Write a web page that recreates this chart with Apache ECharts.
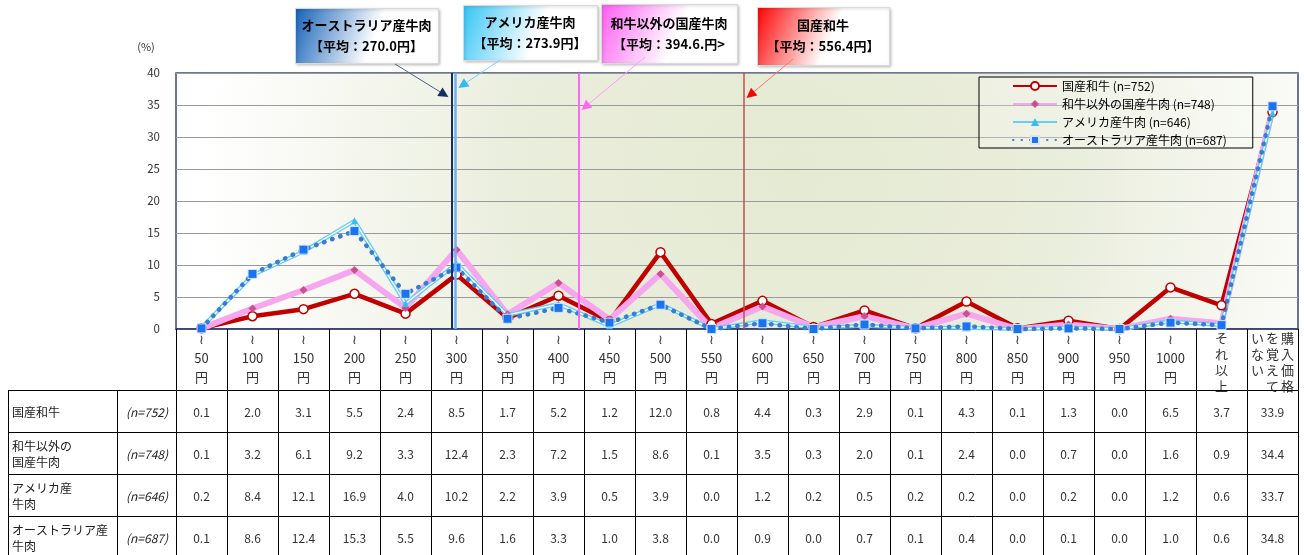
<!DOCTYPE html>
<html>
<head>
<meta charset="utf-8">
<script src="https://cdn.jsdelivr.net/npm/echarts@6/dist/echarts.min.js"></script>
<style>
  html, body { margin: 0; padding: 0; background: #fff; }
  #main { width: 1304px; height: 555px; }
</style>
</head>
<body>
<div id="main"></div>
<script>
// 価格帯
var categories = ['～50円', '～100円', '～150円', '～200円', '～250円', '～300円', '～350円', '～400円',
  '～450円', '～500円', '～550円', '～600円', '～650円', '～700円', '～750円', '～800円', '～850円',
  '～900円', '～950円', '～1000円', 'それ以上', '購入価格を覚えていない'];

var seriesNames = ['国産和牛 (n=752)', '和牛以外の国産牛肉 (n=748)', 'アメリカ産牛肉 (n=646)', 'オーストラリア産牛肉 (n=687)'];
var rowLabels = ['国産和牛', '和牛以外の\n国産牛肉', 'アメリカ産\n牛肉', 'オーストラリア産\n牛肉'];
var rowN = ['(n=752)', '(n=748)', '(n=646)', '(n=687)'];

var wagyu = [0.1, 2.0, 3.1, 5.5, 2.4, 8.5, 1.7, 5.2, 1.2, 12.0, 0.8, 4.4, 0.3, 2.9, 0.1, 4.3, 0.1, 1.3, 0.0, 6.5, 3.7, 33.9];
var kokusan = [0.1, 3.2, 6.1, 9.2, 3.3, 12.4, 2.3, 7.2, 1.5, 8.6, 0.1, 3.5, 0.3, 2.0, 0.1, 2.4, 0.0, 0.7, 0.0, 1.6, 0.9, 34.4];
var america = [0.2, 8.4, 12.1, 16.9, 4.0, 10.2, 2.2, 3.9, 0.5, 3.9, 0.0, 1.2, 0.2, 0.5, 0.2, 0.2, 0.0, 0.2, 0.0, 1.2, 0.6, 33.7];
var aussie = [0.1, 8.6, 12.4, 15.3, 5.5, 9.6, 1.6, 3.3, 1.0, 3.8, 0.0, 0.9, 0.0, 0.7, 0.1, 0.4, 0.0, 0.1, 0.0, 1.0, 0.6, 34.8];

// 平均価格 (円)
var avgNames = ['オーストラリア産牛肉', 'アメリカ産牛肉', '和牛以外の国産牛肉', '国産和牛'];
var avgYen = [270.0, 273.9, 394.6, 556.4];
var avgText = ['【平均：270.0円】', '【平均：273.9円】', '【平均：394.6.円>', '【平均：556.4円】'];

var yTicks = [0, 5, 10, 15, 20, 25, 30, 35, 40];

var FONT = '"Noto Sans CJK JP", "Noto Sans", sans-serif';
var avgColors = ['#142d66', '#6cb2f6', '#ff66f5', '#c0504d'];
var avgWidths = [2, 2.5, 2, 1.5];

var chart = echarts.init(document.getElementById('main'));

function xLabel(v) {
  if (v.charAt(0) === '～') {
    return '≀\n' + v.slice(1, -1) + '\n円';
  }
  if (v === 'それ以上') {
    return v.split('').map(function (c) { return '{v|' + c + '}'; }).join('\n');
  }
  // 縦書き3列 (右から左)
  var cols = ['購入価格', 'を覚えて', 'いない'];
  var lines = [];
  for (var r = 0; r < 4; r++) {
    var s = '';
    for (var c = cols.length - 1; c >= 0; c--) {
      s += '{w|' + (cols[c].charAt(r) || '　') + '}';
    }
    lines.push(s);
  }
  return lines.join('\n');
}

var option = {
  animation: false,
  textStyle: { fontFamily: FONT },
  grid: {
    left: 176, right: 6, top: 73, bottom: 226,
    show: true,
    backgroundColor: new echarts.graphic.RadialGradient(0.55, 0.4, 2.3, [
      { offset: 0, color: '#e5ead3' },
      { offset: 0.45, color: '#e9eddb' },
      { offset: 1, color: '#ffffff' }
    ]),
    borderColor: '#3a4877',
    borderWidth: 1.5
  },
  legend: {
    data: seriesNames,
    orient: 'vertical',
    left: 979, top: 77,
    padding: [2, 26, 1, 33],
    itemWidth: 44, itemHeight: 10, itemGap: 4,
    borderColor: '#000', borderWidth: 1,
    backgroundColor: 'rgba(255,255,255,0.25)',
    textStyle: { fontSize: 12, color: '#000', fontFamily: FONT, lineHeight: 14 }
  },
  xAxis: [{
    type: 'category',
    data: categories,
    boundaryGap: true,
    axisLine: { lineStyle: { color: '#2c3a66', width: 1.5 } },
    axisTick: { show: true, interval: 0, length: 226, lineStyle: { color: '#000', width: 1 } },
    axisLabel: {
      interval: 0, margin: 1, fontSize: 13, lineHeight: 19, color: '#333',
      fontFamily: FONT,
      formatter: xLabel,
      rich: {
        v: { fontSize: 13, lineHeight: 16, color: '#333', fontFamily: FONT },
        w: { fontSize: 13, lineHeight: 16, width: 15, align: 'center', color: '#333', fontFamily: FONT }
      }
    },
    splitLine: { show: false }
  }, {
    // 平均価格用の非表示軸 (1列 = 50円)
    type: 'value', min: 0, max: categories.length * 50, show: false
  }],
  yAxis: {
    type: 'value', min: yTicks[0], max: yTicks[yTicks.length - 1], interval: 5,
    axisLine: { show: false }, axisTick: { show: false },
    axisLabel: { fontSize: 11.5, color: '#333', margin: 16 },
    splitLine: { lineStyle: { color: '#9a9a9a', width: 1 } }
  },
  series: [{
    type: 'line', xAxisIndex: 1, data: [[avgYen[0], 0]],
    symbol: 'none', lineStyle: { width: 0 }, silent: true, z: 1,
    markLine: {
      silent: true, symbol: ['none', 'none'], label: { show: false },
      data: avgYen.map(function (v, i) {
        return [{ coord: [v, 0], lineStyle: { color: avgColors[i], width: avgWidths[i], type: 'solid' } },
          { coord: [v, 40] }];
      })
    }
  }, {
    name: seriesNames[0], type: 'line', data: wagyu, z: 3,
    symbol: 'circle', symbolSize: 9,
    itemStyle: { color: '#fff', borderColor: '#c00000', borderWidth: 1.5 },
    lineStyle: { color: '#c00000', width: 4.5 }
  }, {
    name: seriesNames[1], type: 'line', data: kokusan, z: 3,
    symbol: 'diamond', symbolSize: 8,
    itemStyle: { color: '#cc4f8e' },
    lineStyle: { color: '#f6a6ef', width: 6 }
  }, {
    name: seriesNames[2], type: 'line', data: america, z: 3,
    symbol: 'triangle', symbolSize: 7,
    itemStyle: { color: '#35bdf0' },
    lineStyle: { color: '#66cdf6', width: 4 }
  }, {
    name: 'america-inner', type: 'line', data: america, z: 3,
    symbol: 'none', lineStyle: { color: '#ffffff', width: 1.3 }, silent: true
  }, {
    name: seriesNames[3], type: 'line', data: aussie, z: 3,
    symbol: 'rect', symbolSize: 9,
    itemStyle: { color: '#1a74f0', borderColor: '#d6e6ff', borderWidth: 1 },
    lineStyle: { color: '#3a7ccf', width: 4.5, type: [0.5, 8], cap: 'round' }
  }]
};

chart.setOption(option);

// 表・吹き出し
var g = [];
var rows = [wagyu, kokusan, america, aussie];
var rowTop = [390, 432, 474, 516];
var rowH = 42;

function txt(text, x, y, opt) {
  opt = opt || {};
  g.push({
    type: 'text', z: 100, silent: true,
    style: {
      text: text, x: x, y: y,
      align: opt.align || 'center', verticalAlign: 'middle',
      fontSize: opt.size || 12, fontFamily: FONT,
      fontWeight: opt.weight || 'normal', fontStyle: opt.style || 'normal',
      lineHeight: opt.lh || 16, fill: opt.color || '#333'
    }
  });
}
function line(x1, y1, x2, y2, color, w) {
  g.push({
    type: 'line', z: 100, silent: true,
    shape: { x1: x1, y1: y1, x2: x2, y2: y2 },
    style: { stroke: color || '#000', lineWidth: w || 1 }
  });
}

// 表の罫線
var tableRight = chart.convertToPixel({ xAxisIndex: 1 }, categories.length * 50);
rowTop.forEach(function (y) { line(8, y + 0.5, tableRight, y + 0.5); });
line(8.5, rowTop[0], 8.5, 555);
line(117.5, rowTop[0], 117.5, 555);

rows.forEach(function (arr, r) {
  var cy = rowTop[r] + rowH / 2 + 1;
  txt(rowLabels[r], 12, cy, { align: 'left', size: 12, color: '#222', lh: 16 });
  txt(rowN[r], 147, cy, { size: 12, style: 'italic', color: '#222' });
  arr.forEach(function (v, i) {
    var x = chart.convertToPixel({ xAxisIndex: 0 }, i);
    txt(v.toFixed(1), x, cy, { size: 12 });
  });
});

txt('(%)', 146, 47, { size: 11, color: '#333' });

// 吹き出し
var boxes = [
  { x: 295, y: 8, w: 143, h: 55, c: '#1461b8', line: '#4d5f8c', head: '#142d66', from: [395, 64], tipY: 97, side: -1 },
  { x: 463, y: 5, w: 134, h: 55, c: '#33c4f5', line: '#6fd0fa', head: '#33bbf5', from: [500, 60], tipY: 88, side: 1 },
  { x: 601, y: 4, w: 136, h: 59, c: '#ff5cf2', line: '#ff9cf6', head: '#ff66f0', from: [645, 57], tipY: 110, side: 1 },
  { x: 757, y: 7, w: 132, h: 58, c: '#ff0000', line: '#ff7070', head: '#ff0000', from: [793, 59], tipY: 98, side: 1 }
];
boxes.forEach(function (b, i) {
  g.push({
    type: 'rect', z: 90, silent: true,
    shape: { x: b.x + 0.5, y: b.y + 0.5, width: b.w, height: b.h },
    style: {
      fill: new echarts.graphic.LinearGradient(0, 0, 1, 1, [
        { offset: 0, color: b.c }, { offset: 0.55, color: '#ffffff' }, { offset: 1, color: '#ffffff' }
      ]),
      stroke: '#d9d9d9', lineWidth: 1,
      shadowBlur: 3, shadowColor: 'rgba(0,0,0,0.25)', shadowOffsetX: 1, shadowOffsetY: 1
    }
  });
  txt(avgNames[i] + '\n' + avgText[i], b.x + b.w / 2, b.y + b.h / 2, { size: 13, weight: 'bold', color: '#000', lh: 21 });

  var lx = chart.convertToPixel({ xAxisIndex: 1 }, avgYen[i]);
  var tx = lx + b.side * 3, ty = b.tipY;
  var dx = tx - b.from[0], dy = ty - b.from[1];
  var len = Math.sqrt(dx * dx + dy * dy), ux = dx / len, uy = dy / len;
  var hl = 10, hw = 5;
  var bx = tx - ux * hl, by = ty - uy * hl;
  line(b.from[0], b.from[1], bx, by, b.line, 1);
  g.push({
    type: 'polygon', z: 100, silent: true,
    shape: { points: [[tx, ty], [bx - uy * hw, by + ux * hw], [bx + uy * hw, by - ux * hw]] },
    style: { fill: b.head }
  });
});

chart.setOption({ graphic: g });
</script>
</body>
</html>
